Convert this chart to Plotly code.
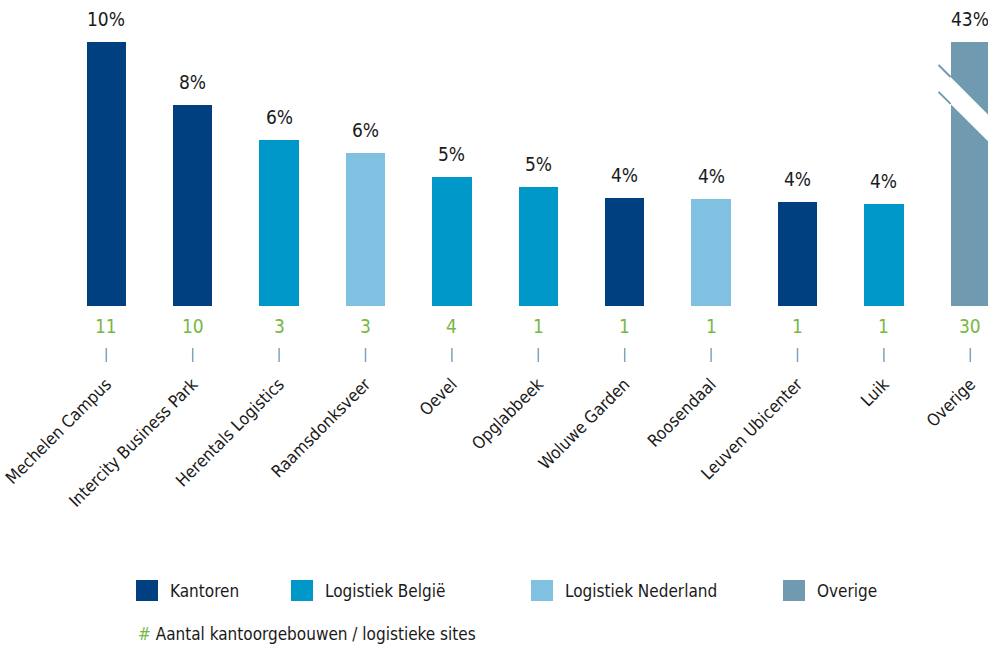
import plotly.graph_objects as go

# --- data -------------------------------------------------------------
sites = ["Mechelen Campus", "Intercity Business Park", "Herentals Logistics",
         "Raamsdonksveer", "Oevel", "Opglabbeek", "Woluwe Garden",
         "Roosendaal", "Leuven Ubicenter", "Luik", "Overige"]
segments = ["Kantoren", "Kantoren", "Logistiek België", "Logistiek Nederland",
            "Logistiek België", "Logistiek België", "Kantoren",
            "Logistiek Nederland", "Kantoren", "Logistiek België", "Overige"]
share_pct = [10.0, 7.6, 6.3, 5.8, 4.9, 4.5, 4.1, 4.05, 3.95, 3.85, 43.0]
site_count = [11, 10, 3, 3, 4, 1, 1, 1, 1, 1, 30]

legend_order = ["Kantoren", "Logistiek België", "Logistiek Nederland", "Overige"]

# --- styling ----------------------------------------------------------
COLORS = {
    "Kantoren": "#003f80",
    "Logistiek België": "#0097c9",
    "Logistiek Nederland": "#80c1e1",
    "Overige": "#6f9aaf",
}
GREEN = "#76b843"
TICK_GREY = "#7fa3bc"
TEXT = "#1a1a1a"
FONT = "'DejaVu Sans Condensed', 'Liberation Sans Narrow', 'Arial Narrow', sans-serif"

W, H = 988, 646
M_L, M_R, M_T, M_B = 0, 0, 42, 340
Y_TOP = 10.0                       # axis is cut above this value
BAR_W = 0.457
SLOT_PX = 86.4
FIRST_CENTER_PX = 106.3

plot_w = W - M_L - M_R
plot_h = H - M_T - M_B
x_lo = -(FIRST_CENTER_PX - M_L) / SLOT_PX
x_hi = x_lo + plot_w / SLOT_PX


def px_x(px):
    return (px - M_L) / plot_w


def px_y(py):
    return (H - M_B - py) / plot_h


def pct_label(v):
    return f"{int(v + 0.5)}%"


fig = go.Figure()

positions = list(range(len(sites)))
fig.add_trace(go.Bar(
    x=positions,
    y=share_pct,
    width=BAR_W,
    marker=dict(color=[COLORS[s] for s in segments], line=dict(width=0)),
    showlegend=False,
    hoverinfo="skip",
))

annotations = []
shapes = []

# percentage above each bar (bars taller than the axis are capped at the cut)
for i, v in enumerate(share_pct):
    annotations.append(dict(
        x=i, y=min(v, Y_TOP), xref="x", yref="y",
        text=pct_label(v), showarrow=False,
        yanchor="bottom", yshift=10,
        font=dict(family=FONT, size=19, color=TEXT),
    ))
    # number of buildings / sites under each bar
    annotations.append(dict(
        x=i, y=0, xref="x", yref="y",
        text=str(site_count[i]), showarrow=False,
        yanchor="middle", yshift=-20,
        font=dict(family=FONT, size=19, color=GREEN),
    ))
    shapes.append(dict(
        type="line", xref="x", yref="paper",
        x0=i, x1=i, y0=px_y(348), y1=px_y(362),
        line=dict(color=TICK_GREY, width=1.5),
    ))

# axis-break marker across the "Overige" bar
bi = sites.index("Overige")
bar_l = bi - BAR_W / 2
ext = 12 / SLOT_PX
slope = -(12 / (plot_h / Y_TOP)) / ext      # 45-degree in screen space
up0 = Y_TOP - 0.87
lo0 = Y_TOP - 1.89
xl = bar_l - ext
xr = bi + BAR_W / 2 + 0.3
shapes.append(dict(
    type="path", xref="x", yref="y",
    path=(f"M{bar_l},{up0 + slope * ext} L{xr},{up0 + slope * (xr - xl)} "
          f"L{xr},{lo0 + slope * (xr - xl)} L{bar_l},{lo0 + slope * ext} Z"),
    fillcolor="white", line=dict(width=0), layer="above",
))
for y0 in (up0, lo0):
    shapes.append(dict(
        type="line", xref="x", yref="y",
        x0=xl, y0=y0, x1=bar_l, y1=y0 + slope * ext,
        line=dict(color=COLORS["Overige"], width=2),
    ))

# legend row
legend_x_px = [136, 291, 531, 783]
for name, lx in zip(legend_order, legend_x_px):
    shapes.append(dict(
        type="rect", xref="paper", yref="paper",
        x0=px_x(lx), x1=px_x(lx + 22), y0=px_y(601), y1=px_y(580),
        fillcolor=COLORS[name], line=dict(width=0),
    ))
    annotations.append(dict(
        x=px_x(lx + 32), y=px_y(590.5), xref="paper", yref="paper",
        text=name, showarrow=False, xanchor="left", yanchor="middle",
        font=dict(family=FONT, size=17, color=TEXT),
    ))

annotations.append(dict(
    x=px_x(136), y=px_y(634), xref="paper", yref="paper",
    text=f"<span style='color:{GREEN}'>#</span> Aantal kantoorgebouwen / logistieke sites",
    showarrow=False, xanchor="left", yanchor="middle",
    font=dict(family=FONT, size=17, color=TEXT),
))

fig.update_layout(
    width=W, height=H,
    margin=dict(l=M_L, r=M_R, t=M_T, b=M_B),
    paper_bgcolor="white", plot_bgcolor="white",
    bargap=0,
    annotations=annotations,
    shapes=shapes,
    xaxis=dict(
        range=[x_lo, x_hi],
        tickmode="array", tickvals=positions, ticktext=sites,
        tickangle=-45, ticks="", showgrid=False, zeroline=False, showline=False,
        ticklabelstandoff=64,
        tickfont=dict(family=FONT, size=17, color=TEXT),
        fixedrange=True,
    ),
    yaxis=dict(
        range=[0, Y_TOP], visible=False, showgrid=False, zeroline=False,
        fixedrange=True,
    ),
)

fig.write_html("out.html")
